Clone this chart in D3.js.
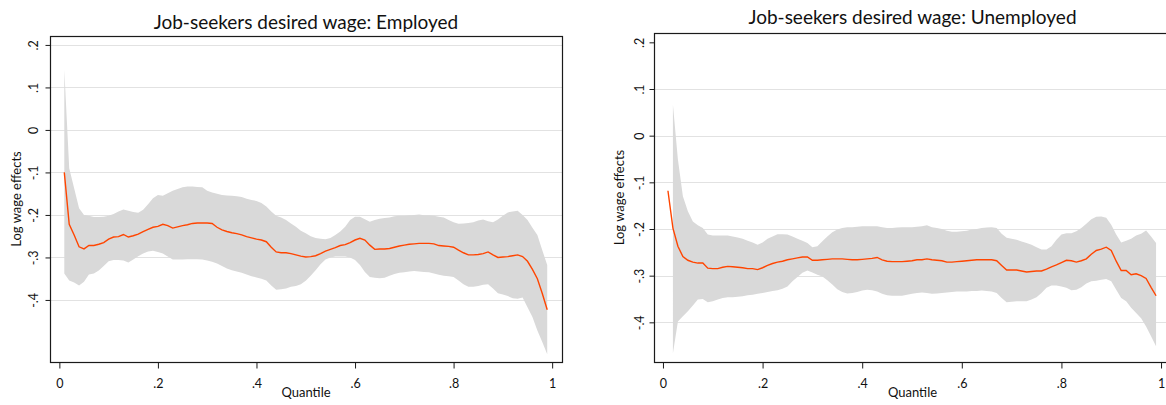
<!doctype html>
<html>
<head>
<meta charset="utf-8">
<style>
    body { margin: 0; background: #fff; }
    svg text { font-family: Lato, "Open Sans", sans-serif; fill: #111; }
    .grid line { stroke: #e2e2e2; stroke-width: 1; }
    .band { fill: #d9d9d9; }
    .est { fill: none; stroke: #ff4500; stroke-width: 1.4; }
    .frame { fill: none; stroke: #1a1a1a; stroke-width: 1.2; }
    .axis line { stroke: #1a1a1a; }
</style>
<script src="https://d3js.org/d3.v7.min.js"></script>
</head>
<body>
<svg width="1166" height="405"></svg>
<script>
var quantiles = [
    .01,.02,.03,.04,.05,.06,.07,.08,.09,.10,
    .11,.12,.13,.14,.15,.16,.17,.18,.19,.20,
    .21,.22,.23,.24,.25,.26,.27,.28,.29,.30,
    .31,.32,.33,.34,.35,.36,.37,.38,.39,.40,
    .41,.42,.43,.44,.45,.46,.47,.48,.49,.50,
    .51,.52,.53,.54,.55,.56,.57,.58,.59,.60,
    .61,.62,.63,.64,.65,.66,.67,.68,.69,.70,
    .71,.72,.73,.74,.75,.76,.77,.78,.79,.80,
    .81,.82,.83,.84,.85,.86,.87,.88,.89,.90,
    .91,.92,.93,.94,.95,.96,.97,.98,.99
];

// Employed: point estimate and confidence band
var empLine = [
    -.100,-.222,-.247,-.275,-.280,-.272,-.272,-.269,-.265,-.257,
    -.252,-.251,-.246,-.252,-.249,-.245,-.239,-.234,-.229,-.227,
    -.222,-.225,-.231,-.228,-.225,-.223,-.220,-.219,-.219,-.219,
    -.220,-.229,-.235,-.239,-.242,-.244,-.247,-.251,-.254,-.257,
    -.259,-.263,-.276,-.287,-.289,-.289,-.291,-.294,-.297,-.299,
    -.298,-.296,-.291,-.285,-.281,-.277,-.272,-.270,-.265,-.259,
    -.255,-.259,-.271,-.281,-.280,-.280,-.279,-.276,-.273,-.271,
    -.269,-.268,-.267,-.267,-.267,-.268,-.272,-.273,-.274,-.276,
    -.283,-.289,-.294,-.294,-.293,-.291,-.287,-.294,-.300,-.299,
    -.298,-.296,-.294,-.298,-.309,-.328,-.350,-.385,-.423
];
var empUpper = [
    .142,-.090,-.137,-.184,-.200,-.202,-.205,-.205,-.204,-.202,
    -.198,-.192,-.187,-.190,-.193,-.195,-.188,-.175,-.161,-.153,
    -.155,-.149,-.143,-.139,-.135,-.133,-.133,-.134,-.135,-.143,
    -.147,-.150,-.153,-.154,-.155,-.156,-.158,-.162,-.165,-.167,
    -.172,-.180,-.192,-.202,-.206,-.212,-.220,-.228,-.237,-.243,
    -.250,-.254,-.256,-.257,-.254,-.247,-.239,-.228,-.212,-.204,
    -.204,-.210,-.216,-.212,-.209,-.207,-.206,-.203,-.202,-.202,
    -.201,-.200,-.199,-.201,-.201,-.202,-.204,-.206,-.212,-.217,
    -.221,-.220,-.219,-.217,-.213,-.211,-.215,-.217,-.211,-.202,
    -.194,-.192,-.190,-.200,-.212,-.230,-.247,-.283,-.318
];
var empLower = [
    -.338,-.354,-.359,-.366,-.357,-.340,-.338,-.331,-.320,-.309,
    -.306,-.306,-.307,-.312,-.305,-.297,-.291,-.286,-.284,-.287,
    -.291,-.298,-.305,-.305,-.305,-.304,-.304,-.304,-.305,-.307,
    -.310,-.314,-.320,-.326,-.330,-.333,-.336,-.340,-.344,-.347,
    -.350,-.354,-.366,-.376,-.375,-.373,-.369,-.367,-.363,-.355,
    -.343,-.330,-.316,-.305,-.300,-.298,-.298,-.298,-.300,-.306,
    -.318,-.334,-.346,-.348,-.349,-.348,-.343,-.339,-.336,-.335,
    -.333,-.332,-.333,-.334,-.335,-.338,-.341,-.343,-.344,-.346,
    -.354,-.363,-.369,-.369,-.367,-.364,-.363,-.373,-.384,-.387,
    -.391,-.396,-.397,-.394,-.417,-.440,-.472,-.499,-.528
];

// Unemployed: point estimate and confidence band (band starts at q = .02)
var unempLine = [
    -.118,-.198,-.237,-.259,-.267,-.271,-.273,-.273,-.284,-.285,
    -.285,-.282,-.280,-.281,-.282,-.283,-.285,-.285,-.287,-.283,
    -.278,-.274,-.271,-.269,-.266,-.264,-.262,-.260,-.260,-.267,
    -.267,-.266,-.265,-.264,-.264,-.264,-.265,-.266,-.266,-.265,
    -.264,-.263,-.261,-.266,-.269,-.270,-.270,-.270,-.269,-.268,
    -.266,-.266,-.264,-.266,-.267,-.268,-.271,-.271,-.270,-.269,
    -.268,-.267,-.266,-.266,-.266,-.266,-.268,-.278,-.288,-.288,
    -.288,-.290,-.292,-.291,-.290,-.290,-.286,-.281,-.277,-.272,
    -.267,-.268,-.271,-.268,-.264,-.254,-.246,-.243,-.239,-.246,
    -.269,-.289,-.289,-.298,-.296,-.300,-.306,-.325,-.343
];
var unempUpper = [
    null,.066,-.051,-.130,-.162,-.184,-.192,-.198,-.212,-.214,
    -.214,-.214,-.214,-.216,-.218,-.221,-.225,-.229,-.234,-.229,
    -.221,-.216,-.211,-.211,-.212,-.216,-.221,-.225,-.230,-.239,
    -.237,-.226,-.216,-.207,-.201,-.198,-.196,-.196,-.195,-.194,
    -.194,-.194,-.194,-.196,-.198,-.198,-.197,-.196,-.196,-.196,
    -.195,-.194,-.192,-.196,-.198,-.200,-.204,-.206,-.206,-.205,
    -.204,-.201,-.200,-.198,-.197,-.196,-.198,-.210,-.219,-.221,
    -.223,-.227,-.230,-.234,-.239,-.244,-.244,-.237,-.223,-.212,
    -.209,-.209,-.205,-.198,-.189,-.179,-.174,-.173,-.176,-.191,
    -.212,-.229,-.225,-.221,-.214,-.210,-.203,-.216,-.230
];
var unempLower = [
    null,-.466,-.398,-.387,-.376,-.364,-.351,-.350,-.357,-.355,
    -.351,-.348,-.346,-.346,-.345,-.344,-.342,-.341,-.339,-.337,
    -.335,-.333,-.331,-.328,-.323,-.312,-.303,-.294,-.289,-.293,
    -.298,-.302,-.310,-.319,-.329,-.335,-.338,-.337,-.335,-.332,
    -.330,-.331,-.334,-.339,-.342,-.343,-.343,-.343,-.341,-.339,
    -.337,-.336,-.337,-.339,-.338,-.337,-.336,-.335,-.334,-.334,
    -.334,-.333,-.333,-.332,-.333,-.334,-.337,-.348,-.357,-.356,
    -.355,-.355,-.355,-.351,-.346,-.337,-.326,-.321,-.321,-.323,
    -.326,-.331,-.330,-.325,-.317,-.312,-.311,-.309,-.307,-.312,
    -.330,-.348,-.355,-.369,-.380,-.391,-.409,-.430,-.451
];

var xTicks = [0, .2, .4, .6, .8, 1];
var xTickLabels = ["0", ".2", ".4", ".6", ".8", "1"];
var yTicks = [-.4, -.3, -.2, -.1, 0, .1, .2];
var yTickLabels = ["-.4", "-.3", "-.2", "-.1", "0", ".1", ".2"];

var svg = d3.select("svg");

function drawPanel(p) {
    var x = d3.scaleLinear().domain(p.xDomain).range([p.left, p.right]);
    var y = d3.scaleLinear().domain(p.yDomain).range([p.bottom, p.top]);
    var g = svg.append("g");

    var rows = quantiles.map(function(q, i) {
        return { q: q, est: p.line[i], lo: p.lower[i], hi: p.upper[i] };
    });

    // horizontal grid
    g.append("g").attr("class", "grid")
     .selectAll("line")
     .data(yTicks.filter(function(t) { return p.gridTop || t < .15; }))
     .enter().append("line")
     .attr("x1", p.left).attr("x2", p.right)
     .attr("y1", function(d) { return Math.round(y(d)) + 0.5; })
     .attr("y2", function(d) { return Math.round(y(d)) + 0.5; });

    var area = d3.area()
        .defined(function(d) { return d.lo != null && d.hi != null; })
        .x(function(d) { return x(d.q); })
        .y0(function(d) { return y(d.lo); })
        .y1(function(d) { return y(d.hi); });
    g.append("path").attr("class", "band").attr("d", area(rows));

    var line = d3.line()
        .x(function(d) { return x(d.q); })
        .y(function(d) { return y(d.est); });
    g.append("path").attr("class", "est").attr("d", line(rows));

    g.append("rect").attr("class", "frame")
     .attr("x", p.left + 0.5).attr("y", p.top + 0.5)
     .attr("width", p.right - p.left).attr("height", p.bottom - p.top);

    // y axis, labels turned like Stata
    var ya = g.append("g").attr("class", "axis")
        .attr("transform", "translate(" + (p.left + 0.5) + ",0)")
        .call(d3.axisLeft(y).tickValues(yTicks).tickSize(5).tickSizeOuter(0)
              .tickFormat(function(d, i) { return yTickLabels[i]; }));
    ya.select(".domain").remove();
    ya.selectAll("text")
      .attr("transform", "rotate(-90)")
      .attr("x", 0).attr("y", -p.yLabelGap).attr("dy", 0)
      .attr("text-anchor", "middle")
      .style("font-size", "12.5px");

    var xa = g.append("g").attr("class", "axis")
        .attr("transform", "translate(0," + (p.bottom + 0.5) + ")")
        .call(d3.axisBottom(x).tickValues(xTicks).tickSize(6).tickSizeOuter(0)
              .tickFormat(function(d, i) { return xTickLabels[i]; }));
    xa.select(".domain").remove();
    xa.selectAll("text").attr("y", 25).attr("dy", 0).style("font-size", "12.5px");

    var cx = (p.left + p.right) / 2;
    g.append("text")
     .attr("x", cx).attr("y", p.titleY)
     .attr("text-anchor", "middle")
     .style("font-size", "19px")
     .text(p.title);

    g.append("text")
     .attr("x", cx).attr("y", 397)
     .attr("text-anchor", "middle")
     .style("font-size", "13px")
     .text("Quantile");

    g.append("text")
     .attr("transform", "translate(" + p.yTitleX + "," + ((p.top + p.bottom) / 2) + ") rotate(-90)")
     .attr("text-anchor", "middle")
     .style("font-size", "13px")
     .text("Log wage effects");
}

drawPanel({
    title: "Job-seekers desired wage: Employed",
    line: empLine, upper: empUpper, lower: empLower,
    left: 50, right: 562, top: 36, bottom: 362,
    xDomain: [-.019, 1.02], yDomain: [-.546, .221],
    titleY: 29, yLabelGap: 13, yTitleX: 21, gridTop: true
});

drawPanel({
    title: "Job-seekers desired wage: Unemployed",
    line: unempLine, upper: unempUpper, lower: unempLower,
    left: 654, right: 1171, top: 33, bottom: 362,
    xDomain: [-.018, 1.02], yDomain: [-.485, .220],
    titleY: 24, yLabelGap: 11, yTitleX: 624, gridTop: false
});
</script>
</body>
</html>
